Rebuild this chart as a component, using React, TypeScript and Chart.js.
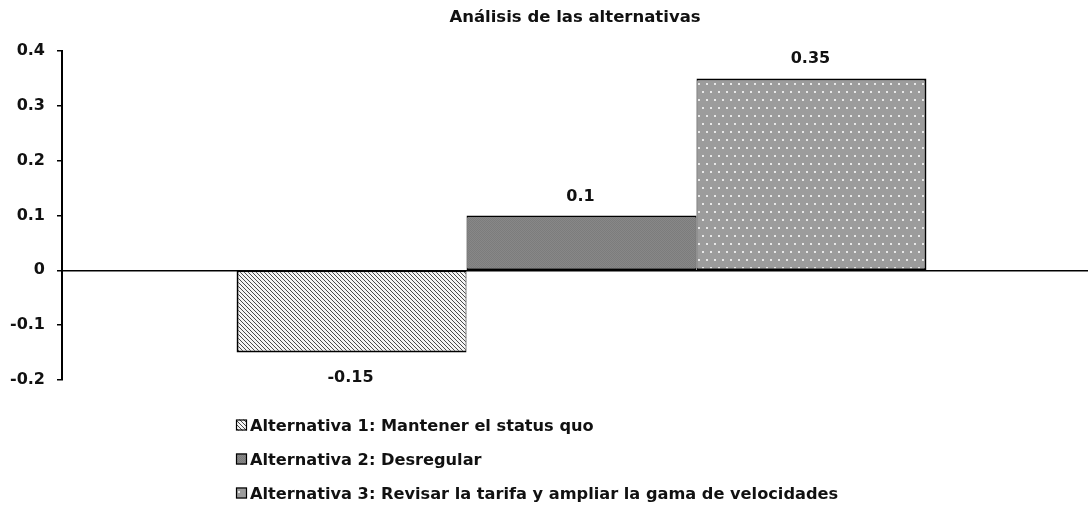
import React, { useEffect, useRef } from "react";
import { Chart, registerables } from "chart.js";

Chart.register(...registerables);

const chartTitle = "Análisis de las alternativas";
const categories = [""];
const seriesLabels = [
  "Alternativa 1: Mantener el status quo",
  "Alternativa 2: Desregular",
  "Alternativa 3: Revisar la tarifa y ampliar la gama de velocidades",
];
const seriesValues = [-0.15, 0.1, 0.35];
const yMin = -0.2;
const yMax = 0.4;
const yStep = 0.1;

const FONT = "'DejaVu Sans', Verdana, sans-serif";

function makeTile(w: number, h: number, draw: (c: CanvasRenderingContext2D) => void) {
  const cv = document.createElement("canvas");
  cv.width = w;
  cv.height = h;
  const c = cv.getContext("2d")!;
  draw(c);
  return c.createPattern(cv, "repeat")!;
}

function makePatterns() {
  const hatch = makeTile(4, 4, (c) => {
    c.fillStyle = "#f4f4f4";
    c.fillRect(0, 0, 4, 4);
    c.fillStyle = "#4a4a4a";
    for (let i = 0; i < 4; i++) c.fillRect(i, i, 1, 1);
  });
  const solid = makeTile(2, 2, (c) => {
    c.fillStyle = "#888888";
    c.fillRect(0, 0, 2, 2);
    c.fillStyle = "#7c7c7c";
    c.fillRect(0, 0, 1, 1);
    c.fillRect(1, 1, 1, 1);
  });
  const dots = makeTile(8, 16, (c) => {
    c.fillStyle = "#9c9c9c";
    c.fillRect(0, 0, 8, 16);
    c.fillStyle = "#e8e8e8";
    c.fillRect(2, 3, 2, 2);
    c.fillRect(6, 11, 2, 2);
  });
  return [hatch, solid, dots];
}

const fmt = (v: number) => String(Number(v.toFixed(2)));

export default function App() {
  const ref = useRef<HTMLCanvasElement | null>(null);

  useEffect(() => {
    if (!ref.current) return;
    const patterns = makePatterns();
    const n = seriesValues.length;

    const borderWidths = seriesValues.map((_, i) => ({
      top: 2,
      bottom: 2,
      left: i === 0 ? 2 : 1,
      right: i === n - 1 ? 2 : 1,
    }));

    const decor = {
      id: "decor",
      afterDatasetsDraw(chart: any) {
        const { ctx, chartArea } = chart;
        ctx.save();
        ctx.fillStyle = "#111";
        // title centered on the visible plot
        ctx.font = `bold 16.5px ${FONT}`;
        ctx.textAlign = "center";
        ctx.textBaseline = "alphabetic";
        ctx.fillText(chartTitle, (chartArea.left + 1088) / 2, 22);

        // value labels
        ctx.font = `bold 16px ${FONT}`;
        chart.data.datasets.forEach((ds: any, i: number) => {
          const meta = chart.getDatasetMeta(i);
          meta.data.forEach((el: any, j: number) => {
            const v = ds.data[j];
            const y = v >= 0 ? el.y - 15 : el.y + 29;
            ctx.fillText(fmt(v), el.x - 1, y);
          });
        });

        // legend (vertical list)
        ctx.textAlign = "left";
        ctx.font = `bold 16.2px ${FONT}`;
        const lx = 236;
        const rows = [425, 459, 493];
        chart.data.datasets.forEach((ds: any, i: number) => {
          const cy = rows[i];
          ctx.fillStyle = ds.backgroundColor;
          ctx.fillRect(lx, cy - 5.5, 11, 11);
          ctx.strokeStyle = "#000";
          ctx.lineWidth = 1.2;
          ctx.strokeRect(lx + 0.5, cy - 5, 10, 10);
          ctx.fillStyle = "#111";
          ctx.fillText(ds.label, lx + 14, cy + 6);
        });
        ctx.restore();
      },
    };

    const chart = new Chart(ref.current, {
      type: "bar",
      data: {
        labels: categories,
        datasets: seriesValues.map((v, i) => ({
          label: seriesLabels[i],
          data: [v],
          backgroundColor: patterns[i] as any,
          borderColor: "#000",
          borderWidth: borderWidths[i] as any,
          borderSkipped: false as any,
          categoryPercentage: 0.664,
          barPercentage: 1.0,
        })),
      },
      options: {
        animation: false,
        responsive: false,
        maintainAspectRatio: false,
        layout: { padding: { left: 0, top: 51, right: 0, bottom: 139 } },
        plugins: {
          legend: { display: false },
          title: { display: false },
          tooltip: { enabled: false },
        },
        scales: {
          x: { display: false },
          y: {
            min: yMin,
            max: yMax,
            afterFit: (s: any) => {
              s.width = 62;
            },
            border: { display: true, color: "#000", width: 2 },
            grid: {
              color: (c: any) => (c.tick && Math.abs(c.tick.value) < 1e-9 ? "#000" : "rgba(0,0,0,0)"),
              lineWidth: 1.5,
              tickColor: "#000",
              tickWidth: 1.5,
              tickLength: 5,
              drawTicks: true,
            },
            ticks: {
              stepSize: yStep,
              padding: 12,
              color: "#111",
              font: { family: FONT, size: 16, weight: "bold" },
              callback: (v: any) => fmt(Number(v)),
            },
          },
        },
      },
      plugins: [decor],
    });

    return () => chart.destroy();
  }, []);

  return (
    <div style={{ position: "absolute", left: 0, top: 0, width: 1088, height: 519, overflow: "hidden" }}>
      <canvas ref={ref} width={1101} height={519} style={{ display: "block" }} />
    </div>
  );
}
